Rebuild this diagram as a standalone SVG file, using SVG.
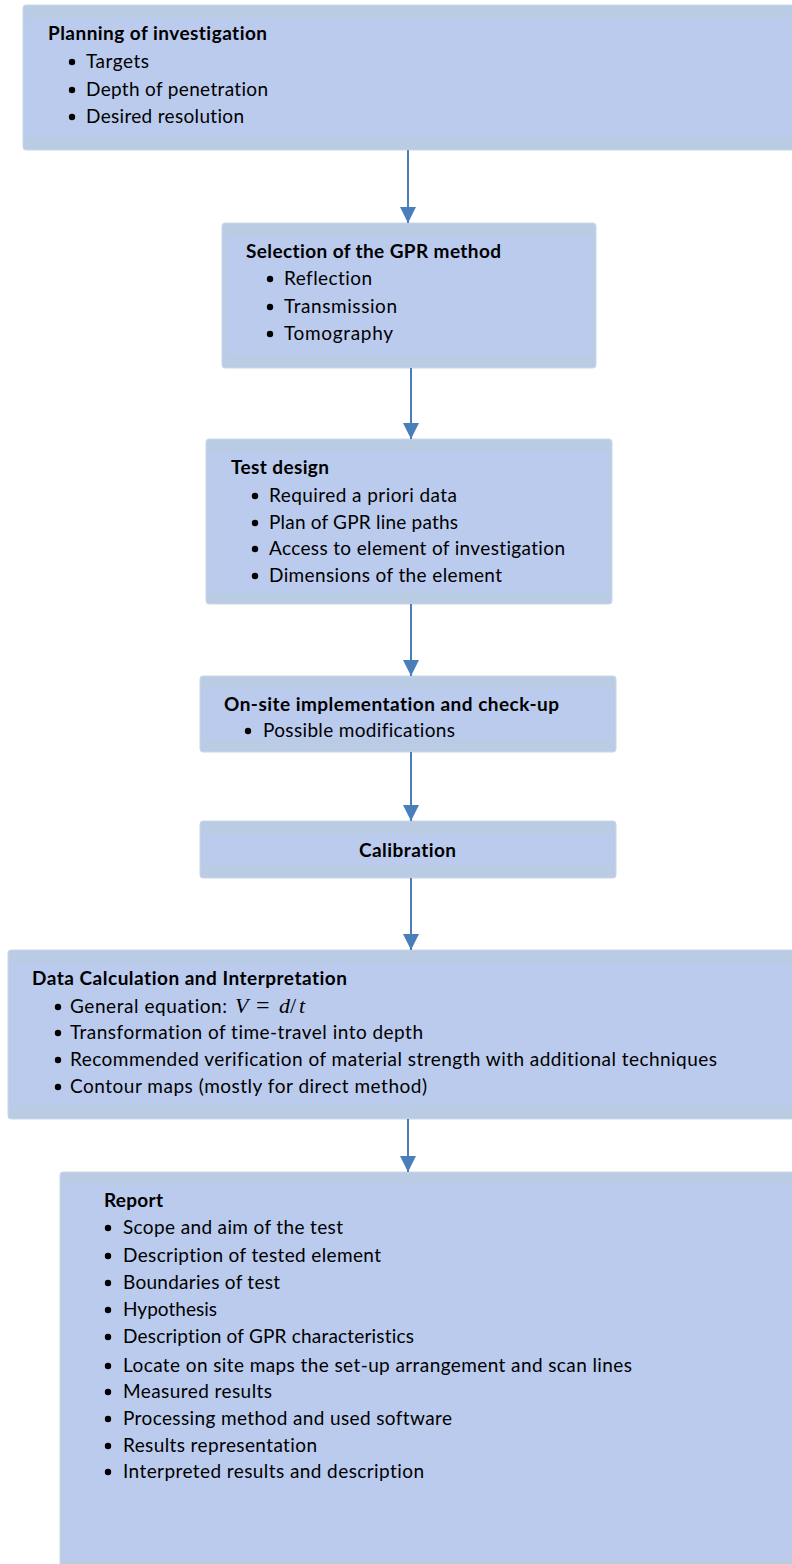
<svg xmlns="http://www.w3.org/2000/svg" width="792" height="1564" viewBox="0 0 792 1564">
<style>
.box{fill:#BACCE4;stroke:#C9D6EA;stroke-width:1}
.inner{fill:#BBCBEE}
text{font-family:Lato,"Open Sans","Liberation Sans",sans-serif;font-size:19px;fill:#000;font-variant-ligatures:none;font-feature-settings:"liga" 0,"dlig" 0}
.t{font-weight:bold}
.b{fill:#000}
.math{font-family:"Liberation Serif","DejaVu Serif",serif;font-size:22px}
.conn line{stroke:#4A7EBB;stroke-width:2}
</style>
<defs>
<marker id="ah" markerUnits="userSpaceOnUse" markerWidth="16" markerHeight="16" viewBox="0 0 16 16" refX="16" refY="8" orient="auto">
<path d="M0,0 L16,8 L0,16 z" fill="#4A7EBB"/>
</marker>
</defs>
<rect width="792" height="1564" fill="#FFFFFF"/>

<g id="planning">
<rect class="box" x="23" y="5" width="780" height="145" rx="3"/>
<rect class="inner" x="25" y="18" width="776" height="119"/>
<text class="t" x="48" y="40" textLength="219">Planning of investigation</text>
<circle class="b" cx="72" cy="62" r="3.2"/><text x="86" y="68" textLength="63">Targets</text>
<circle class="b" cx="72" cy="90" r="3.2"/><text x="86" y="96" textLength="182">Depth of penetration</text>
<circle class="b" cx="72" cy="117" r="3.2"/><text x="86" y="123" textLength="158">Desired resolution</text>
</g>

<g id="selection">
<rect class="box" x="222" y="223" width="374" height="145" rx="3"/>
<rect class="inner" x="226" y="237" width="366" height="118"/>
<text class="t" x="246" y="258" textLength="255">Selection of the GPR method</text>
<circle class="b" cx="270" cy="279" r="3.2"/><text x="284" y="285" textLength="88">Reflection</text>
<circle class="b" cx="270" cy="307" r="3.2"/><text x="284" y="313" textLength="113">Transmission</text>
<circle class="b" cx="270" cy="334" r="3.2"/><text x="284" y="340" textLength="109">Tomography</text>
</g>

<g id="testdesign">
<rect class="box" x="206" y="439" width="406" height="165" rx="3"/>
<rect class="inner" x="209" y="452" width="400" height="139"/>
<text class="t" x="231" y="474" textLength="98">Test design</text>
<circle class="b" cx="255" cy="496" r="3.2"/><text x="269" y="502" textLength="188">Required a priori data</text>
<circle class="b" cx="255" cy="523" r="3.2"/><text x="269" y="529" textLength="189">Plan of GPR line paths</text>
<circle class="b" cx="255" cy="549" r="3.2"/><text x="269" y="555" textLength="296">Access to element of investigation</text>
<circle class="b" cx="255" cy="576" r="3.2"/><text x="269" y="582" textLength="233">Dimensions of the element</text>
</g>

<g id="onsite">
<rect class="box" x="200" y="676" width="416" height="76" rx="3"/>
<rect class="inner" x="203" y="689" width="410" height="50"/>
<text class="t" x="224" y="711" textLength="335">On-site implementation and check-up</text>
<circle class="b" cx="248" cy="731" r="3.2"/><text x="263" y="737" textLength="192">Possible modifications</text>
</g>

<g id="calibration">
<rect class="box" x="200" y="821" width="416" height="57" rx="3"/>
<rect class="inner" x="203" y="834" width="410" height="31"/>
<text class="t" x="359" y="857" textLength="97">Calibration</text>
</g>

<g id="datacalc">
<rect class="box" x="8" y="950" width="800" height="169" rx="3"/>
<rect class="inner" x="11" y="963" width="795" height="143"/>
<text class="t" x="32" y="985" textLength="315">Data Calculation and Interpretation</text>
<circle class="b" cx="58" cy="1007" r="3.2"/><text x="70" y="1013" textLength="157">General equation:</text>
<text class="math" x="235" y="1013"><tspan font-style="italic">V</tspan><tspan x="256" font-size="24">=</tspan><tspan x="279" font-style="italic">d</tspan><tspan x="290">/</tspan><tspan x="299" font-style="italic">t</tspan></text>
<circle class="b" cx="58" cy="1033" r="3.2"/><text x="70" y="1039" textLength="353">Transformation of time-travel into depth</text>
<circle class="b" cx="58" cy="1060" r="3.2"/><text x="70" y="1066" textLength="647">Recommended verification of material strength with additional techniques</text>
<circle class="b" cx="58" cy="1087" r="3.2"/><text x="70" y="1093" textLength="357">Contour maps (mostly for direct method)</text>
</g>

<g id="report">
<rect class="box" x="60" y="1172" width="760" height="401" rx="3"/>
<rect class="inner" x="63" y="1185" width="755" height="375"/>
<text class="t" x="104" y="1207" textLength="59">Report</text>
<circle class="b" cx="108" cy="1228" r="3.2"/><text x="123" y="1234" textLength="220">Scope and aim of the test</text>
<circle class="b" cx="108" cy="1256" r="3.2"/><text x="123" y="1262" textLength="258">Description of tested element</text>
<circle class="b" cx="108" cy="1283" r="3.2"/><text x="123" y="1289" textLength="157">Boundaries of test</text>
<circle class="b" cx="108" cy="1310" r="3.2"/><text x="123" y="1316" textLength="94">Hypothesis</text>
<circle class="b" cx="108" cy="1337" r="3.2"/><text x="123" y="1343" textLength="291">Description of GPR characteristics</text>
<circle class="b" cx="108" cy="1366" r="3.2"/><text x="123" y="1372" textLength="509">Locate on site maps the set-up arrangement and scan lines</text>
<circle class="b" cx="108" cy="1392" r="3.2"/><text x="123" y="1398" textLength="149">Measured results</text>
<circle class="b" cx="108" cy="1419" r="3.2"/><text x="123" y="1425" textLength="329">Processing method and used software</text>
<circle class="b" cx="108" cy="1446" r="3.2"/><text x="123" y="1452" textLength="194">Results representation</text>
<circle class="b" cx="108" cy="1472" r="3.2"/><text x="123" y="1478" textLength="301">Interpreted results and description</text>
</g>

<g id="connectors" class="conn">
<line x1="408" y1="150" x2="408" y2="223" marker-end="url(#ah)"/>
<line x1="411" y1="368" x2="411" y2="439" marker-end="url(#ah)"/>
<line x1="411" y1="604" x2="411" y2="676" marker-end="url(#ah)"/>
<line x1="411" y1="752" x2="411" y2="821" marker-end="url(#ah)"/>
<line x1="411" y1="878" x2="411" y2="950" marker-end="url(#ah)"/>
<line x1="408" y1="1119" x2="408" y2="1172" marker-end="url(#ah)"/>
</g>
</svg>
